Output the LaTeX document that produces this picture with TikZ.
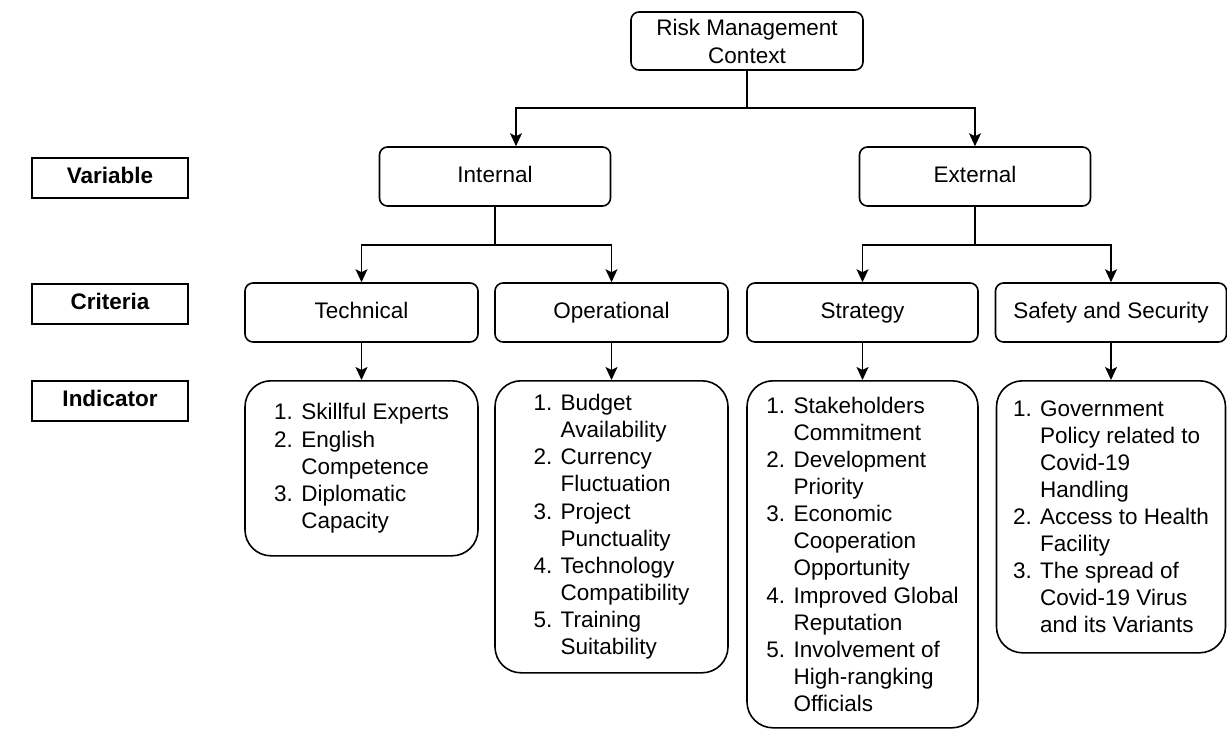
\documentclass[tikz,border=0pt]{standalone}
\usepackage{fontspec}
\setmainfont{Liberation Sans}
\usepackage{tikz}
\usetikzlibrary{positioning,arrows.meta}
\newcommand{\listpad}{\hphantom{1. }}

\begin{document}
\begin{tikzpicture}[x=1pt,y=-1pt,
  box/.style={draw, line width=1.6pt, rounded corners=8pt, minimum width=231pt,
    minimum height=59pt, inner sep=0pt, align=center,
    font=\fontsize{22.5}{28}\selectfont},
  onebox/.style={box, text height=16pt, text depth=5pt},
  listbox/.style={draw, line width=1.6pt, rounded corners=26pt, minimum width=233pt,
    anchor=north, inner sep=0pt, align=left,
    font=\fontsize{22.5}{27.1}\selectfont},
  tag/.style={draw, line width=2.2pt, minimum width=156pt, minimum height=40pt,
    anchor=north, inner sep=0pt, text height=16pt, text depth=5pt,
    font=\bfseries\fontsize{22.5}{27}\selectfont},
  link/.style={line width=1.6pt},
  arr/.style={line width=1.6pt, -{Stealth[length=13pt,width=12pt,inset=3pt]}}]
  \useasboundingbox (0,0) rectangle (1227,729);
  % Level tags on the left
  \foreach \txt/\y/\nm in {Variable/157/lblvar, Criteria/283/lblcrit, Indicator/380/lblind}
    \node[tag] (\nm) at (110,\y) {\txt};
  % Top of the tree
  \node[box, minimum width=232pt, minimum height=58pt] (root) at (747,41) {Risk Management\\Context};
  % Variables
  \node[onebox] (internal) at (495,176.5) {Internal};
  \node[onebox] (external) at (975,176.5) {External};
  % Criteria
  \node[onebox, minimum width=233pt] (technical) at (361.5,312.5) {Technical};
  \node[onebox, minimum width=233pt] (operational) at (611.5,312.5) {Operational};
  \node[onebox] (strategy) at (862.5,312.5) {Strategy};
  \node[onebox] (safety) at (1111,312.5) {Safety and Security};
  % Indicators
  \node[listbox, minimum height=175pt] (technical-list) at (361.5,380)
    {1. Skillful Experts\\2. English\\\listpad Competence\\3. Diplomatic\\\listpad Capacity};
  \node[listbox, minimum height=292pt] (operational-list) at (611.5,380)
    {1. Budget\\\listpad Availability\\2. Currency\\\listpad Fluctuation\\3. Project\\\listpad Punctuality\\4. Technology\\\listpad Compatibility\\5. Training\\\listpad Suitability};
  \node[listbox, minimum width=231pt, minimum height=347pt] (strategy-list) at (862.5,380)
    {1. Stakeholders\\\listpad Commitment\\2. Development\\\listpad Priority\\3. Economic\\\listpad Cooperation\\\listpad Opportunity\\4. Improved Global\\\listpad Reputation\\5. Involvement of\\\listpad High-rangking\\\listpad Officials};
  \node[listbox, minimum width=229pt, minimum height=272pt] (safety-list) at (1111,380)
    {1. Government\\\listpad Policy related to\\\listpad Covid-19\\\listpad Handling\\2. Access to Health\\\listpad Facility\\3. The spread of\\\listpad Covid-19 Virus\\\listpad and its Variants};
  % Connectors
  \coordinate (topbar) at (747,108);
  \draw[link] (root) -- (topbar);
  \draw[arr] (topbar) -| ([xshift=21pt]internal.north);
  \draw[arr] (topbar) -| (external.north);
  \draw[arr] (internal.south) -- ++(0,38) -| (technical.north);
  \draw[arr] (internal.south) -- ++(0,38) -| (operational.north);
  \draw[arr] (external.south) -- ++(0,38) -| (strategy.north);
  \draw[arr] (external.south) -- ++(0,38) -| (safety.north);
  \foreach \c in {technical,operational,strategy,safety}
    \draw[arr] (\c) -- (\c-list);
\end{tikzpicture}
\end{document}
